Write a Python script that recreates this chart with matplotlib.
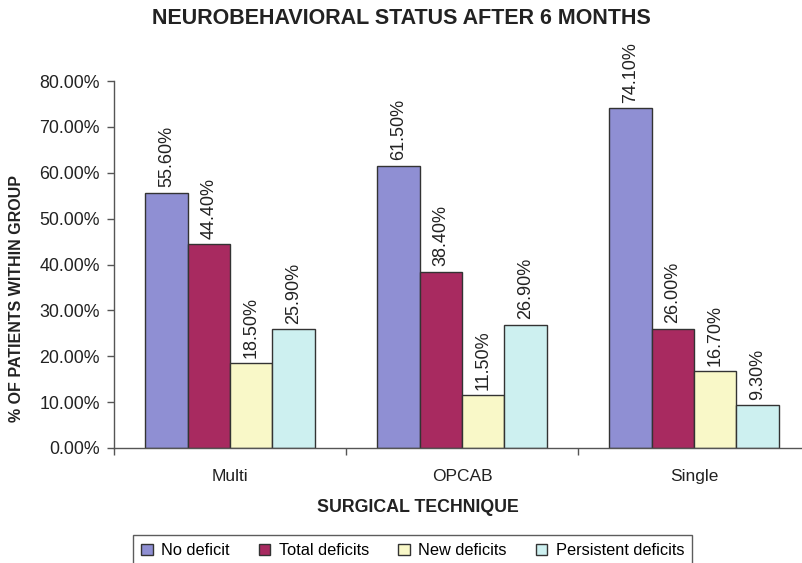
import matplotlib.pyplot as plt
import numpy as np
from matplotlib.ticker import FuncFormatter, FixedLocator

plt.rcParams['font.family'] = ['Liberation Sans', 'DejaVu Sans']

techniques = ["Multi", "OPCAB", "Single"]
series_names = ["No deficit", "Total deficits", "New deficits", "Persistent deficits"]
no_deficit = [55.6, 61.5, 74.1]
total_deficits = [44.4, 38.4, 26.0]
new_deficits = [18.5, 11.5, 16.7]
persistent_deficits = [25.9, 26.9, 9.3]
y_ticks = [0, 10, 20, 30, 40, 50, 60, 70, 80]

colors = ["#8f8fd3", "#a82a60", "#f9f8c8", "#cdf0f0"]
series = [no_deficit, total_deficits, new_deficits, persistent_deficits]

W, H = 803, 563
fig = plt.figure(figsize=(W / 100, H / 100), dpi=100)
ax = fig.add_axes([114 / W, (H - 448) / H, (W - 114) / W, (448 - 81) / H])

x = np.arange(len(techniques))
bw = 0.183
for i, (vals, col, name) in enumerate(zip(series, colors, series_names)):
    pos = x + (i - 1.5) * bw
    bars = ax.bar(pos, vals, bw, color=col, edgecolor="#333333", linewidth=1.0, label=name)
    for b, v in zip(bars, vals):
        ax.annotate(f"{v:.2f}%", (b.get_x() + b.get_width() / 2, v),
                    xytext=(0, 4), textcoords="offset points",
                    rotation=90, ha="center", va="bottom", fontsize=13, color="#222222")

ax.set_xlim(-0.5, 2.47)
ax.set_ylim(0, 80)
ax.set_yticks(y_ticks)
ax.yaxis.set_major_formatter(FuncFormatter(lambda v, p: f"{v:.2f}%"))
ax.tick_params(axis="y", length=5, width=1, color="#555555", labelsize=12.8, pad=5, labelcolor="#222222")

ax.set_xticks(x)
ax.set_xticklabels(techniques)
ax.tick_params(axis="x", which="major", length=0, labelsize=12.5, pad=15, labelcolor="#222222")
ax.xaxis.set_minor_locator(FixedLocator([-0.5, 0.5, 1.5]))
ax.tick_params(axis="x", which="minor", length=5, width=1, color="#555555", direction="out")

for side in ["top", "right"]:
    ax.spines[side].set_visible(False)
for side in ["left", "bottom"]:
    ax.spines[side].set_color("#555555")
    ax.spines[side].set_linewidth(1.0)

fig.text(401 / W, 1 - 18 / H, "NEUROBEHAVIORAL STATUS AFTER 6 MONTHS",
         ha="center", va="center", fontsize=15.5, fontweight="bold", color="#222222")
fig.text(418 / W, 1 - 507 / H, "SURGICAL TECHNIQUE",
         ha="center", va="center", fontsize=12.8, fontweight="bold", color="#222222")
fig.text(17 / W, 1 - 298 / H, "% OF PATIENTS WITHIN GROUP", rotation=90,
         ha="center", va="center", fontsize=11.5, fontweight="bold", color="#222222")

leg = fig.legend(loc="upper left", bbox_to_anchor=(133 / W, 1 - 535 / H), ncol=4,
                 fontsize=11.8, frameon=True, fancybox=False, edgecolor="#333333",
                 handlelength=0.7, handleheight=0.7, handletextpad=0.5,
                 columnspacing=1.8, borderpad=0.5, borderaxespad=0)
leg.get_frame().set_linewidth(1.0)
for h in leg.legend_handles:
    h.set_edgecolor("#333333")

fig.savefig("out.png", dpi=100)
